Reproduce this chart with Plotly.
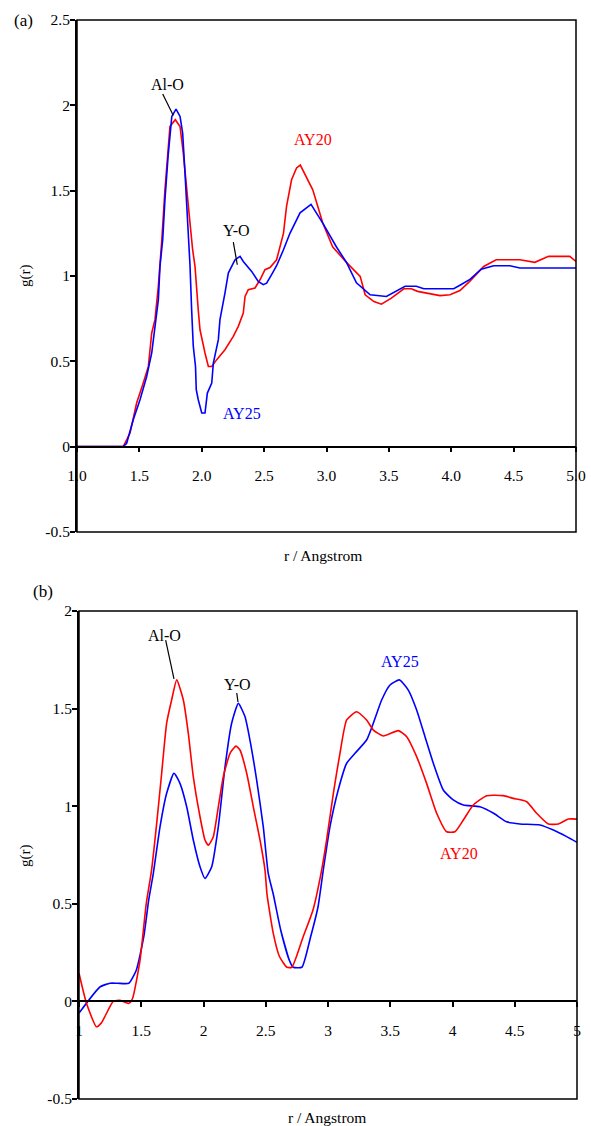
import plotly.graph_objects as go

# ---------------- data: panel (a) ----------------
r_a_ay25 = [1.0, 1.36, 1.37, 1.398, 1.451, 1.505, 1.558, 1.599, 1.625, 1.652, 1.665, 1.687, 1.705,
            1.73, 1.76, 1.794, 1.826, 1.847, 1.866, 1.884, 1.898, 1.906, 1.919, 1.932, 1.95, 1.956,
            1.972, 2.0, 2.026, 2.045, 2.08, 2.093, 2.133, 2.146, 2.186, 2.213, 2.253, 2.267, 2.307,
            2.333, 2.40, 2.453, 2.493, 2.52, 2.56, 2.60, 2.655, 2.707, 2.788, 2.876, 2.97, 3.08,
            3.16, 3.21, 3.24, 3.35, 3.48, 3.63, 3.72, 3.78, 4.02, 4.08, 4.15, 4.24, 4.34, 4.47, 4.55, 5.0]
g_a_ay25 = [0, 0, 0, 0.02, 0.158, 0.275, 0.41, 0.55, 0.705, 0.86, 1.056, 1.213, 1.447,
            1.70, 1.935, 1.978, 1.935, 1.838, 1.60, 1.35, 1.19, 1.06, 0.80, 0.59, 0.47, 0.334,
            0.275, 0.197, 0.197, 0.314, 0.373, 0.49, 0.627, 0.744, 0.90, 1.017, 1.076, 1.095, 1.115,
            1.085, 1.027, 0.968, 0.949, 0.958, 1.008, 1.06, 1.154, 1.25, 1.37, 1.42, 1.31, 1.17,
            1.08, 1.0, 0.96, 0.89, 0.88, 0.94, 0.94, 0.925, 0.925, 0.95, 0.98, 1.04, 1.06, 1.06, 1.047, 1.047]

r_a_ay20 = [1.0, 1.36, 1.371, 1.425, 1.478, 1.531, 1.572, 1.599, 1.625, 1.652, 1.67, 1.68, 1.705,
            1.73, 1.745, 1.788, 1.826, 1.852, 1.88, 1.906, 1.927, 1.946, 1.972, 1.986, 2.026, 2.053,
            2.08, 2.12, 2.186, 2.253, 2.293, 2.333, 2.347, 2.373, 2.427, 2.467, 2.507, 2.547, 2.60,
            2.655, 2.68, 2.72, 2.76, 2.79, 2.89, 2.97, 3.05, 3.16, 3.27, 3.31, 3.38, 3.44, 3.52,
            3.62, 3.68, 3.73, 3.91, 3.99, 4.07, 4.15, 4.24, 4.26, 4.36, 4.55, 4.67, 4.78, 4.95, 5.0]
g_a_ay20 = [0, 0, 0, 0.08, 0.256, 0.373, 0.47, 0.666, 0.744, 0.94, 1.095, 1.213, 1.505,
            1.74, 1.876, 1.916, 1.876, 1.72, 1.486, 1.31, 1.154, 1.056, 0.80, 0.685, 0.549, 0.47,
            0.47, 0.51, 0.568, 0.646, 0.705, 0.783, 0.88, 0.92, 0.93, 0.978, 1.037, 1.05, 1.095,
            1.25, 1.41, 1.564, 1.633, 1.65, 1.505, 1.31, 1.17, 1.08, 0.998, 0.89, 0.85, 0.835, 0.87,
            0.925, 0.925, 0.91, 0.885, 0.89, 0.915, 0.97, 1.04, 1.056, 1.095, 1.095, 1.08, 1.115, 1.115, 1.085]

# ---------------- data: panel (b) ----------------
r_b_ay25 = [1.0, 1.17, 1.25, 1.31, 1.40, 1.46, 1.52, 1.56, 1.597, 1.651, 1.704, 1.763, 1.811, 1.865,
            1.918, 1.972, 2.012, 2.066, 2.119, 2.173, 2.226, 2.28, 2.333, 2.373, 2.427, 2.48, 2.52,
            2.56, 2.62, 2.69, 2.72, 2.79, 2.86, 2.92, 2.962, 3.016, 3.082, 3.15, 3.217, 3.31, 3.364,
            3.431, 3.498, 3.573, 3.645, 3.712, 3.779, 3.846, 3.926, 4.006, 4.087, 4.22, 4.33, 4.435,
            4.542, 4.703, 4.81, 4.917, 5.0]
g_b_ay25 = [-0.06, 0.075, 0.093, 0.093, 0.093, 0.16, 0.33, 0.52, 0.656, 0.895, 1.066, 1.169, 1.117, 0.997,
            0.827, 0.69, 0.63, 0.69, 0.895, 1.202, 1.425, 1.527, 1.459, 1.339, 1.134, 0.895, 0.656,
            0.55, 0.366, 0.21, 0.175, 0.175, 0.33, 0.485, 0.673, 0.895, 1.083, 1.22, 1.271, 1.339, 1.425,
            1.544, 1.621, 1.647, 1.595, 1.493, 1.356, 1.22, 1.083, 1.032, 1.006, 0.997, 0.964, 0.92,
            0.909, 0.904, 0.878, 0.844, 0.815]

r_b_ay20 = [1.0, 1.06, 1.14, 1.18, 1.275, 1.33, 1.40, 1.43, 1.49, 1.54, 1.583, 1.624, 1.664, 1.704,
            1.744, 1.785, 1.838, 1.878, 1.918, 1.972, 2.012, 2.039, 2.079, 2.119, 2.159, 2.213, 2.261,
            2.293, 2.347, 2.40, 2.454, 2.494, 2.51, 2.56, 2.61, 2.67, 2.71, 2.80, 2.88, 2.949, 2.989,
            3.043, 3.096, 3.15, 3.23, 3.31, 3.364, 3.444, 3.565, 3.632, 3.712, 3.792, 3.873, 3.953,
            4.02, 4.087, 4.167, 4.274, 4.408, 4.488, 4.596, 4.676, 4.77, 4.85, 4.93, 5.0]
g_b_ay20 = [0.144, -0.01, -0.13, -0.11, 0.0, 0.005, -0.01, 0.015, 0.21, 0.50, 0.673, 0.912, 1.169, 1.425,
            1.544, 1.647, 1.544, 1.373, 1.151, 0.946, 0.827, 0.80, 0.844, 0.997, 1.151, 1.271, 1.308,
            1.288, 1.169, 0.997, 0.827, 0.673, 0.55, 0.35, 0.23, 0.175, 0.175, 0.33, 0.47, 0.673, 0.827,
            1.066, 1.271, 1.442, 1.484, 1.442, 1.39, 1.36, 1.387, 1.356, 1.254, 1.117, 0.964, 0.869,
            0.869, 0.929, 1.006, 1.054, 1.054, 1.04, 1.023, 0.964, 0.909, 0.909, 0.934, 0.934]

x_ticks = [1.0, 1.5, 2.0, 2.5, 3.0, 3.5, 4.0, 4.5, 5.0]
x_ticktext_a = ["1.0", "1.5", "2.0", "2.5", "3.0", "3.5", "4.0", "4.5", "5.0"]
x_ticktext_b = ["1", "1.5", "2", "2.5", "3", "3.5", "4", "4.5", "5"]
y_ticks_a = [-0.5, 0, 0.5, 1, 1.5, 2, 2.5]
y_ticktext_a = ["-0.5", "0", "0.5", "1", "1.5", "2", "2.5"]
y_ticks_b = [-0.5, 0, 0.5, 1, 1.5, 2]
y_ticktext_b = ["-0.5", "0", "0.5", "1", "1.5", "2"]

RED = "#ff0000"
BLUE = "#0000ff"
FONT = "Liberation Serif, Times New Roman, Times, serif"

W, H = 591, 1126
ML, MR, MT, MB = 77, 14, 20, 27
PW = W - ML - MR
PH = H - MT - MB


def px_x(px):
    return (px - ML) / PW


def px_y(py):
    return (H - MB - py) / PH


ya_rng = [-0.5, 2.5]
yb_rng = [-0.5, 2.0]
ya_dom = [px_y(532), 1.0]
yb_dom = [0.0, px_y(611)]
xa_dom = [0.0, px_x(576)]
xb_dom = [px_x(79), 1.0]
xa_pos = ya_dom[0] + (0 - ya_rng[0]) / (ya_rng[1] - ya_rng[0]) * (ya_dom[1] - ya_dom[0])
xb_pos = yb_dom[0] + (0 - yb_rng[0]) / (yb_rng[1] - yb_rng[0]) * (yb_dom[1] - yb_dom[0])

fig = go.Figure()
fig.add_trace(go.Scatter(x=r_a_ay20, y=g_a_ay20, mode="lines", line=dict(color=RED, width=1.6),
                         xaxis="x", yaxis="y", name="AY20"))
fig.add_trace(go.Scatter(x=r_a_ay25, y=g_a_ay25, mode="lines", line=dict(color=BLUE, width=1.6),
                         xaxis="x", yaxis="y", name="AY25"))
fig.add_trace(go.Scatter(x=r_b_ay25, y=g_b_ay25, mode="lines",
                         line=dict(color=BLUE, width=1.6, shape="spline", smoothing=0.5),
                         xaxis="x2", yaxis="y2", name="AY25"))
fig.add_trace(go.Scatter(x=r_b_ay20, y=g_b_ay20, mode="lines",
                         line=dict(color=RED, width=1.6, shape="spline", smoothing=0.5),
                         xaxis="x2", yaxis="y2", name="AY20"))

tickfont = dict(family=FONT, size=15.5, color="black")
common_x = dict(showgrid=False, zeroline=False, showline=True, linecolor="black", linewidth=1.5,
                ticks="outside", ticklen=5, tickwidth=1.5, tickcolor="black", tickfont=tickfont,
                anchor="free", tickvals=x_ticks, range=[1, 5], ticklabelstandoff=10)
common_y = dict(showgrid=False, zeroline=False, showline=True, linecolor="black", linewidth=2,
                ticks="outside", ticklen=5, tickwidth=1.5, tickcolor="black", tickfont=tickfont,
                ticklabelstandoff=-3)

fig.update_layout(
    width=W, height=H,
    autosize=False,
    margin=dict(l=ML, r=MR, t=MT, b=MB, autoexpand=False),
    paper_bgcolor="white", plot_bgcolor="white",
    showlegend=False,
    font=dict(family=FONT, size=16, color="black"),
    xaxis=dict(common_x, domain=xa_dom, position=xa_pos, ticktext=x_ticktext_a),
    yaxis=dict(common_y, domain=ya_dom, anchor="x", range=ya_rng, tickvals=y_ticks_a, ticktext=y_ticktext_a),
    xaxis2=dict(common_x, domain=xb_dom, position=xb_pos, ticktext=x_ticktext_b),
    yaxis2=dict(common_y, domain=yb_dom, anchor="x2", range=yb_rng, tickvals=y_ticks_b, ticktext=y_ticktext_b),
)

# frames
for xr, yr in (("x domain", "y domain"), ("x2 domain", "y2 domain")):
    fig.add_shape(type="rect", xref=xr, yref=yr, x0=0, x1=1, y0=0, y1=1,
                  line=dict(color="black", width=1.5), fillcolor="rgba(0,0,0,0)", layer="above")

# pointer lines
pointer_lines = [
    ("x", "y", 1.687, 2.066, 1.772, 1.94),
    ("x", "y", 2.253, 1.199, 2.285, 1.066),
    ("x2", "y2", 1.696, 1.851, 1.763, 1.652),
    ("x2", "y2", 2.267, 1.58, 2.277, 1.534),
]
for xr, yr, x0, y0, x1, y1 in pointer_lines:
    fig.add_shape(type="line", xref=xr, yref=yr, x0=x0, y0=y0, x1=x1, y1=y1,
                  line=dict(color="black", width=1.2))

labels = [
    ("x", "y", 1.729, 2.12, "Al-O", "black"),
    ("x", "y", 2.28, 1.267, "Y-O", "black"),
    ("x", "y", 2.894, 1.798, "AY20", RED),
    ("x", "y", 2.325, 0.193, "AY25", BLUE),
    ("x2", "y2", 1.69, 1.872, "Al-O", "black"),
    ("x2", "y2", 2.272, 1.626, "Y-O", "black"),
    ("x2", "y2", 3.578, 1.739, "AY25", BLUE),
    ("x2", "y2", 4.052, 0.76, "AY20", RED),
]
for xr, yr, x, y, t, c in labels:
    fig.add_annotation(xref=xr, yref=yr, x=x, y=y, text=t, showarrow=False,
                       font=dict(family=FONT, size=16, color=c), xanchor="center", yanchor="middle")

paper_texts = [
    (23, 20, "(a)", 0, 17),
    (43, 592, "(b)", 0, 17),
    (323, 555, "r / Angstrom", 0, 15.5),
    (327, 1117, "r / Angstrom", 0, 15.5),
    (25, 276, "g(r)", -90, 15),
    (25, 856, "g(r)", -90, 15),
]
for x, y, t, ang, sz in paper_texts:
    fig.add_annotation(xref="paper", yref="paper", x=px_x(x), y=px_y(y), text=t, showarrow=False,
                       textangle=ang, font=dict(family=FONT, size=sz, color="black"),
                       xanchor="center", yanchor="middle")

fig.write_html(
    "out.html",
    config={"displayModeBar": False},
    post_script="document.body.style.margin='0';document.body.style.overflow='hidden';",
)
